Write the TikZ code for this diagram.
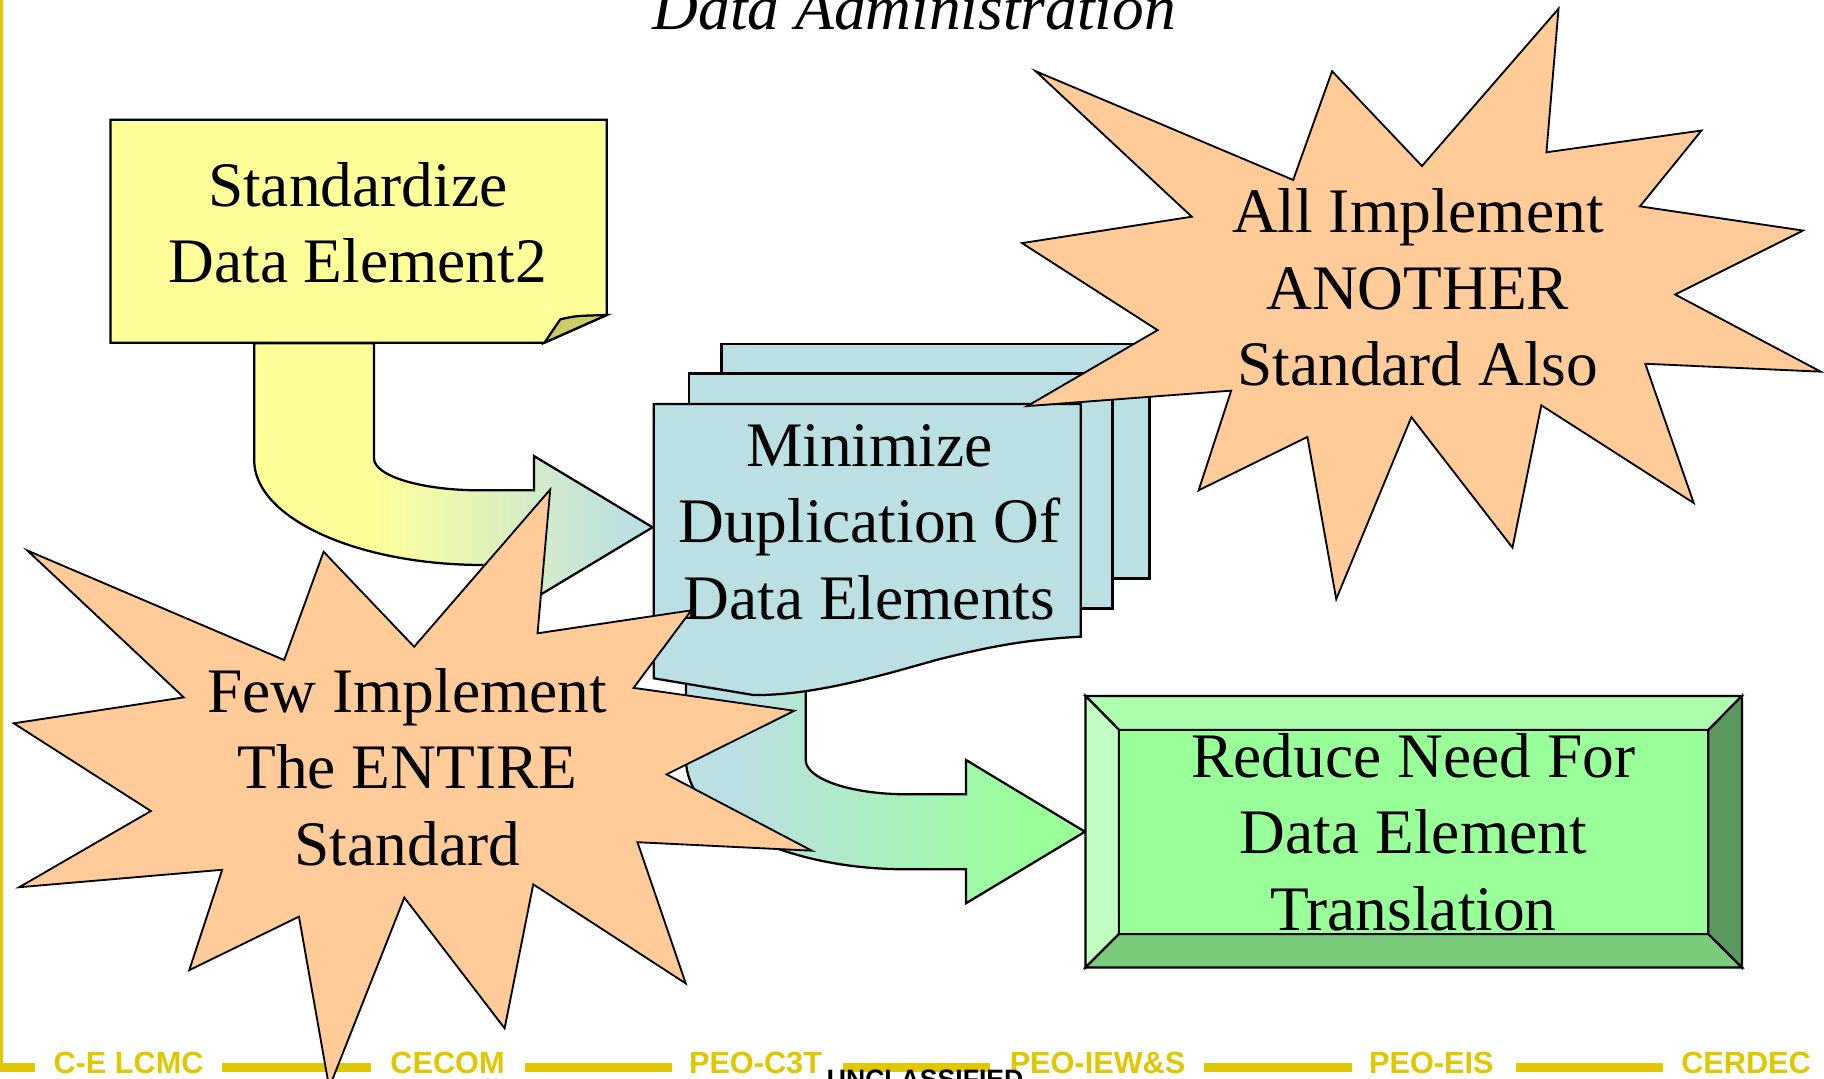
\documentclass[tikz,border=0pt]{standalone}
\usepackage{fontspec}
\setmainfont{Liberation Serif}
\setsansfont{Liberation Sans}
\definecolor{noteyel}{HTML}{FFFF99}
\definecolor{notefold}{HTML}{CCCC66}
\definecolor{docblue}{HTML}{BBE0E3}
\definecolor{burst}{HTML}{FFCC99}
\definecolor{bevelmid}{HTML}{99FF99}
\definecolor{beveltop}{HTML}{ADFFAD}
\definecolor{bevelleft}{HTML}{C2FFC2}
\definecolor{bevelbot}{HTML}{7ACC7A}
\definecolor{bevelright}{HTML}{5C995C}
\definecolor{footyel}{HTML}{E0C800}
% fills of the two bent arrows (path box spans 25bp..75bp)
\pgfdeclarehorizontalshading{yelblue}{100bp}{color(0bp)=(noteyel); color(40bp)=(noteyel); color(72bp)=(docblue); color(100bp)=(docblue)}
\pgfdeclarehorizontalshading{bluegreen}{100bp}{color(0bp)=(docblue); color(32bp)=(docblue); color(68bp)=(bevelmid); color(100bp)=(bevelmid)}
\begin{document}
\begin{tikzpicture}[x=0.01cm,y=-0.01cm,
  outline/.style={draw=black,line width=0.55pt,line join=miter},
  burstline/.style={draw=black,line width=0.45pt,line join=miter},
  bodytext/.style={font=\fontsize{15.5}{18.68}\selectfont,align=center,anchor=base,inner sep=0pt},
  foot/.style={font=\sffamily\bfseries\fontsize{7.5}{9}\selectfont,text=footyel,anchor=base,inner sep=0pt},
  footbar/.style={fill=footyel,draw=none}]

\useasboundingbox (0,0) rectangle (1568,927);
\clip (0,0) rectangle (1568,927);
\fill[white] (0,0) rectangle (1568,927);

% slide frame and footer band
\fill[footyel] (0,0) rectangle (2.3,921.2);
\fill[footbar] (0,913.5) rectangle (30,921.2);
\fill[footbar] (191,913.5) rectangle (319,921.2);
\fill[footbar] (451,913.5) rectangle (578,921.2);
\fill[footbar] (725,913.5) rectangle (851,921.2);
\fill[footbar] (1035,913.5) rectangle (1162,921.2);
\fill[footbar] (1303,913.5) rectangle (1430,921.2);
\node[foot] (f1) at (110.5,922.5) {C-E LCMC};
\node[foot] (f2) at (384.7,922.5) {CECOM};
\node[foot] (f3) at (649.5,922.5) {PEO-C3T};
\node[foot] (f4) at (943.5,922.5) {PEO-IEW\&S};
\node[foot] (f5) at (1230.5,922.5) {PEO-EIS};
\node[foot] (f6) at (1501,922.5) {CERDEC};
\node[anchor=base,inner sep=0pt,font=\sffamily\bfseries\fontsize{6.5}{8}\selectfont] (uncl) at (795.3,935.5) {UNCLASSIFIED};

% title
\node[anchor=base,inner sep=0pt,font=\itshape\fontsize{15.5}{18.68}\selectfont] (title) at (785.9,25.5) {Data Administration};

% bent block arrow: note -> documents
\path[outline,shading=yelblue]
  (218.5,295) -- (218.5,395.5)
  .. controls (218.5,445.3) and (306.8,485.7) .. (415.5,485.7)
  -- (459,485.7) -- (459,514.6) -- (561,453.3) -- (459,392) -- (459,421.5)
  -- (412.6,421.5)
  .. controls (362.4,421.5) and (321.5,409.2) .. (321.5,394)
  -- (321.5,295) -- cycle;

% note with folded corner
\path[outline,fill=noteyel] (95,103) -- (521.6,103) -- (521.6,270.8) -- (468,294.6) -- (95,294.6) -- cycle;
\path[outline,fill=notefold] (468,294.6) -- (481.7,274.5) .. controls (495,271.5) .. (521.6,270.8) -- cycle;
\node[bodytext] (note) at (307.5,243) {Standardize\\Data Element2};

% bent block arrow: documents -> translation box
\path[outline,shading=bluegreen]
  (589.7,560) -- (589.7,653)
  .. controls (589.7,705) and (674.7,747.3) .. (779.4,747.3)
  -- (830.4,747.3) -- (830.4,776.5) -- (932.7,715) -- (830.4,653.3) -- (830.4,682.8)
  -- (779.4,682.8)
  .. controls (731.5,682.8) and (692.6,669.6) .. (692.6,653.3)
  -- (692.6,560) -- cycle;

% stacked documents
\path[outline,fill=docblue] (620.3,295.7) rectangle (988.2,497.2);
\path[outline,fill=docblue] (592.2,321) rectangle (956.4,523);
\path[outline,fill=docblue] (562,347.3) -- (929.1,347.3) -- (929.1,547.3)
  .. controls (880,550) and (850,556) .. (804.7,567.4)
  .. controls (760,580) and (700,598) .. (647.8,597.5)
  -- (562,583.1) -- cycle;
\node[bodytext] (docs) at (747.3,532.4) {Minimize\\Duplication Of\\Data Elements};

% bevelled box
\path[outline,fill=beveltop] (933.2,598.3) -- (1497.4,598.3) -- (1468.6,627.5) -- (962,627.5) -- cycle;
\path[outline,fill=bevelleft] (933.2,598.3) -- (962,627.5) -- (962,802.9) -- (933.2,831.6) -- cycle;
\path[outline,fill=bevelbot] (933.2,831.6) -- (962,802.9) -- (1468.6,802.9) -- (1497.4,831.6) -- cycle;
\path[outline,fill=bevelright] (1497.4,598.3) -- (1497.4,831.6) -- (1468.6,802.9) -- (1468.6,627.5) -- cycle;
\path[outline,fill=bevelmid] (962,627.5) rectangle (1468.6,802.9);
\node[bodytext] (reduce) at (1215,799.5) {Reduce Need For\\Data Element\\Translation};

% burst: another standard
\path[burstline,fill=burst]
  (890.3,61.2) -- (1024.5,186.3) -- (878.6,209) -- (995.1,283.8) -- (883.1,349.1)
  -- (1058.4,335.8) -- (1030.4,421.5) -- (1123.9,375.6) -- (1148.7,515)
  -- (1213.3,358.6) -- (1300.2,470.8) -- (1325,348.4) -- (1456,432.4)
  -- (1414.4,312.7) -- (1565.2,319.5) -- (1440.1,253.2) -- (1550,198.2)
  -- (1409.8,177.4) -- (1462.7,112.2) -- (1329.4,130.9) -- (1339.8,7.5)
  -- (1222.4,142.7) -- (1145.1,61.2) -- (1111.7,154.7) -- cycle;
\node[bodytext] (another) at (1218.8,331.4) {All Implement\\ANOTHER\\Standard Also};

% burst: partial implementation
\path[burstline,fill=burst]
  (23.6,473.3) -- (158,599.5) -- (11.8,621.8) -- (129.7,697.2) -- (16.5,762.7)
  -- (191,747.7) -- (162.7,834) -- (257,788) -- (283,935) -- (347.6,771.6)
  -- (433.8,884) -- (458.4,760.2) -- (589.5,845.4) -- (548,724) -- (697.9,731.3)
  -- (573,665.7) -- (682.8,611) -- (544.7,591.3) -- (594.2,524.7) -- (462.1,544.4)
  -- (473,420.8) -- (356,556) -- (278.2,474.3) -- (244.3,567.4) -- cycle;
\node[bodytext] (few) at (350.1,743.8) {Few Implement\\The ENTIRE\\Standard};

\end{tikzpicture}
\end{document}
